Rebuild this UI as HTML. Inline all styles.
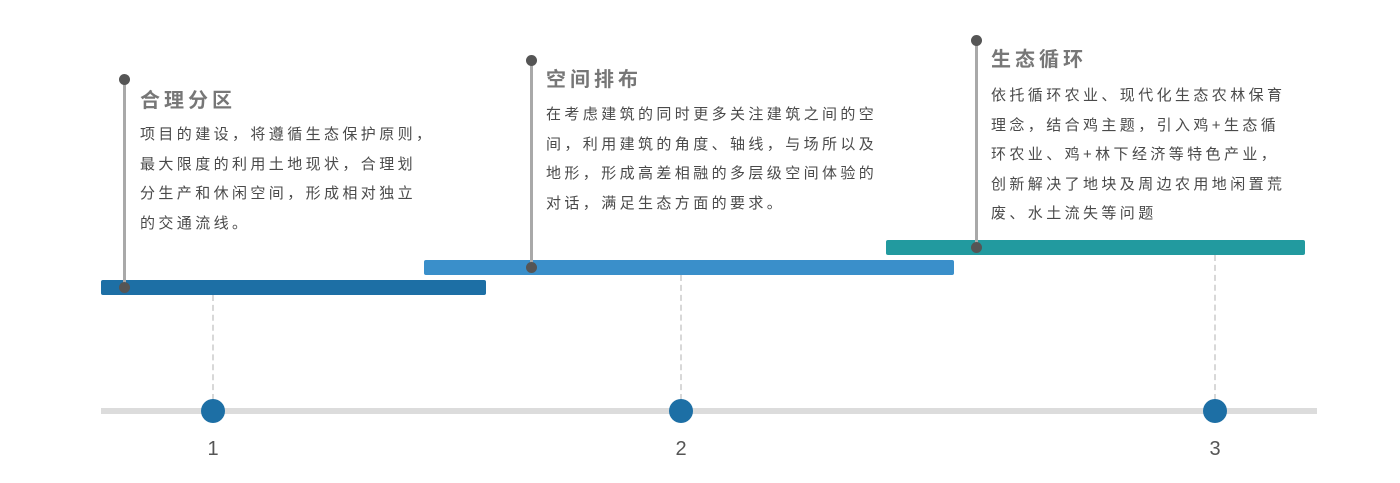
<!DOCTYPE html>
<html><head><meta charset="utf-8"><style>
body{margin:0;width:1400px;height:483px;background:#fff;position:relative;overflow:hidden;font-family:"Liberation Sans","Noto Sans CJK SC",sans-serif}
.a{position:absolute}
.bar{position:absolute;height:15px;border-radius:2px}
.stem{position:absolute;width:3px;background:#a9a9a9}
.dot{position:absolute;width:11px;height:11px;border-radius:50%;background:#555}
.dash{position:absolute;width:0;border-left:2px dashed #d8d8d8}
.c{position:absolute;width:24px;height:24px;border-radius:50%;background:#1d6fa5}
.t{position:absolute;font-size:20px;font-weight:bold;color:#777;letter-spacing:4px;line-height:24px}
.b{position:absolute;font-size:15px;color:#4a4a4a;letter-spacing:3.4px;line-height:29.5px;white-space:nowrap}
.n{position:absolute;font-size:20px;color:#555;width:40px;text-align:center}
</style></head><body>
<div class="a" style="left:101px;top:408px;width:1216px;height:6px;background:#dcdcdc"></div>
<div class="dash" style="left:212px;top:295px;height:105px"></div>
<div class="dash" style="left:680px;top:275px;height:125px"></div>
<div class="dash" style="left:1214px;top:255px;height:145px"></div>
<div class="c" style="left:201px;top:399px"></div>
<div class="c" style="left:669px;top:399px"></div>
<div class="c" style="left:1203px;top:399px"></div>
<div class="n" style="left:193px;top:438px">1</div>
<div class="n" style="left:661px;top:438px">2</div>
<div class="n" style="left:1195px;top:438px">3</div>

<div class="bar" style="left:101px;top:280px;width:385px;background:#1d6fa5"></div>
<div class="bar" style="left:424px;top:260px;width:530px;background:#3a8fca"></div>
<div class="bar" style="left:886px;top:240px;width:419px;background:#229a9f"></div>

<div class="stem" style="left:123px;top:79px;height:208px"></div>
<div class="dot" style="left:119px;top:74px"></div>
<div class="dot" style="left:119px;top:282px"></div>
<div class="stem" style="left:530px;top:60px;height:208px"></div>
<div class="dot" style="left:526px;top:55px"></div>
<div class="dot" style="left:526px;top:262px"></div>
<div class="stem" style="left:975px;top:40px;height:207px"></div>
<div class="dot" style="left:971px;top:35px"></div>
<div class="dot" style="left:971px;top:242px"></div>

<div class="t" style="left:140px;top:89px">合理分区</div>
<div class="b" style="left:140px;top:120px">项目的建设，将遵循生态保护原则，<br>最大限度的利用土地现状，合理划<br>分生产和休闲空间，形成相对独立<br>的交通流线。</div>

<div class="t" style="left:546px;top:68px">空间排布</div>
<div class="b" style="left:546px;top:100px">在考虑建筑的同时更多关注建筑之间的空<br>间，利用建筑的角度、轴线，与场所以及<br>地形，形成高差相融的多层级空间体验的<br>对话，满足生态方面的要求。</div>

<div class="t" style="left:991px;top:48px">生态循环</div>
<div class="b" style="left:991px;top:81px">依托循环农业、现代化生态农林保育<br>理念，结合鸡主题，引入鸡+生态循<br>环农业、鸡+林下经济等特色产业，<br>创新解决了地块及周边农用地闲置荒<br>废、水土流失等问题</div>
</body></html>
